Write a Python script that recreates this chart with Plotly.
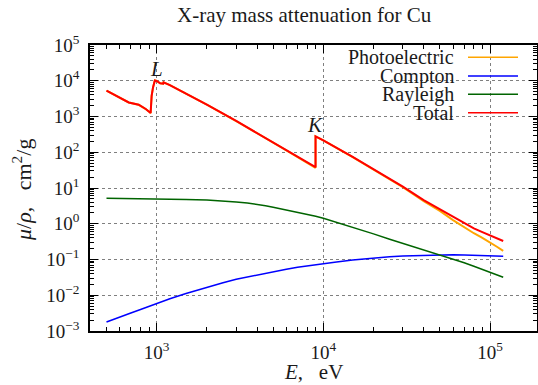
import plotly.graph_objects as go

# ---- data (energies in eV, mu/rho in cm^2/g) ----
E_pe = [500, 600, 680, 780, 860, 920, 933, 951, 975, 1000, 1050, 1095, 1100, 1200,
        1500, 2000, 3000, 4000, 5000, 6000, 8000, 8979, 8979, 10000, 15000, 20000, 25000,
        30000, 40000, 50000, 60000, 70000, 80000, 90000, 100000, 110000, 120000]
photo = [5295, 3395, 2465, 2125, 1615, 1245, 3795, 6495, 10195, 9895, 8495, 8295, 8995, 7575,
         4445, 2150, 745, 344.6, 187, 113.5, 50.7, 36.6, 276.9, 214.4, 73.1, 33.17, 17.6,
         10.49, 4.28, 2.28, 1.262, 0.785, 0.543, 0.402, 0.303, 0.227, 0.174]
total = [5300, 3400, 2470, 2130, 1620, 1250, 3800, 6500, 10200, 9900, 8500, 8300, 9000, 7580,
         4450, 2154, 749, 348, 190, 116, 52.6, 38.3, 278.4, 215.9, 74.0, 33.8, 18.1,
         10.9, 4.6, 2.55, 1.50, 1.0, 0.74, 0.585, 0.475, 0.39, 0.33]

E_compton = [500, 600, 700, 800, 1000, 1200, 1500, 2000, 2500, 3000, 3500, 4000, 5000, 6000,
             7000, 8000, 10000, 12000, 15000, 20000, 25000, 30000, 40000, 50000, 60000, 70000,
             80000, 100000, 120000]
compton = [0.00178, 0.0025, 0.0032, 0.0040, 0.0059, 0.0080, 0.0112, 0.0170, 0.0225, 0.0280,
           0.0326, 0.0370, 0.0455, 0.053, 0.061, 0.067, 0.075, 0.085, 0.097, 0.110, 0.119,
           0.125, 0.131, 0.134, 0.135, 0.134, 0.132, 0.128, 0.124]

E_rayleigh = [500, 700, 1000, 1500, 2000, 2500, 3000, 3500, 4000, 4500, 5000, 6000, 7000, 8000,
              9000, 10000, 12000, 15000, 20000, 25000, 30000, 40000, 50000, 60000, 70000, 80000,
              90000, 100000, 110000, 120000]
rayleigh = [5.14, 5.08, 4.95, 4.80, 4.62, 4.36, 4.08, 3.78, 3.50, 3.19, 2.90, 2.45, 2.12, 1.85,
            1.62, 1.42, 1.10, 0.80, 0.52, 0.37, 0.285, 0.185, 0.135, 0.103, 0.081, 0.065,
            0.053, 0.044, 0.037, 0.032]

series_names = ["Photoelectric", "Compton", "Rayleigh", "Total"]
series_colors = ["#FFA500", "#0000FF", "#006400", "#FF0000"]

x_ticks = [1e3, 1e4, 1e5]
x_ticktext = ["10<sup>3</sup>", "10<sup>4</sup>", "10<sup>5</sup>"]
y_ticks = [1e-3, 1e-2, 1e-1, 1e0, 1e1, 1e2, 1e3, 1e4, 1e5]
y_ticktext = ["10<sup>\u22123</sup>", "10<sup>\u22122</sup>", "10<sup>\u22121</sup>", "10<sup>0</sup>",
              "10<sup>1</sup>", "10<sup>2</sup>", "10<sup>3</sup>", "10<sup>4</sup>", "10<sup>5</sup>"]

FONT = "Liberation Serif"
TXT = "#1a1a1a"

W, H = 538, 385
PL, PR, PT, PB = 90, 537, 45, 331   # plot frame in page pixels

fig = go.Figure()
data = [(E_pe, photo, 2), (E_compton, compton, 1.5), (E_rayleigh, rayleigh, 1.5), (E_pe, total, 2)]
for (xs, ys, w), name, col in zip(data, series_names, series_colors):
    fig.add_trace(go.Scatter(x=xs, y=ys, mode="lines", name=name,
                             line=dict(color=col, width=w), showlegend=False))

x_minor = [m * 10 ** k for k in range(2, 6) for m in range(2, 10)]
y_minor = [m * 10.0 ** k for k in range(-3, 5) for m in range(2, 10)]

axis_common = dict(
    type="log", showline=True, linecolor="black", linewidth=1.5, mirror="allticks",
    ticks="inside", ticklen=8, tickwidth=1, tickcolor="black", automargin=False,
    showgrid=True, gridcolor="#7f7f7f", griddash="dot", gridwidth=1,
    zeroline=False, tickfont=dict(family=FONT, size=19, color=TXT),
)

fig.update_xaxes(**axis_common, range=[2.6, 5.282], tickmode="array", tickvals=x_ticks,
                 ticktext=x_ticktext, ticklabelstandoff=3,
                 minor=dict(ticks="inside", ticklen=4, tickcolor="black", tickvals=x_minor, showgrid=False))
fig.update_yaxes(**axis_common, range=[-3, 5], tickmode="array", tickvals=y_ticks,
                 ticktext=y_ticktext, ticklabelstandoff=5,
                 minor=dict(ticks="inside", ticklen=4, tickcolor="black", tickvals=y_minor, showgrid=False))

def px2paper(px, py):
    return (px - PL) / float(PR - PL), (PB - py) / float(PB - PT)

def text_at(text, px, py, size, xanchor="center", angle=0):
    x, y = px2paper(px, py)
    return dict(text=text, x=x, y=y, xref="paper", yref="paper", xanchor=xanchor,
                yanchor="middle", textangle=angle, showarrow=False,
                font=dict(family=FONT, size=size, color=TXT))

annotations = [
    text_at("X-ray mass attenuation for Cu", 304, 15, 21),
    text_at("<i>\u03bc</i>/<i>\u03c1</i>,   cm<sup>2</sup>/g", 22, 190, 22, angle=-90),
    text_at("<i>E</i>,   eV", 313, 372, 21),
    text_at("<i>L</i>", 156, 69, 21),
    text_at("<i>K</i>", 315, 125, 21),
]

shapes = []
bx0, by0 = px2paper(316, 123)
bx1, by1 = px2paper(531, 46)
shapes.append(dict(type="rect", xref="paper", yref="paper", x0=bx0, x1=bx1, y0=by0, y1=by1,
                   fillcolor="white", line=dict(width=0), layer="between"))
legend_rows = [57.3, 76, 94.3, 112.7]
for name, col, row in zip(series_names, series_colors, legend_rows):
    annotations.append(text_at(name, 456, row, 20, xanchor="right"))
    lx0, ly0 = px2paper(468, row)
    lx1, _ = px2paper(518, row)
    shapes.append(dict(type="line", xref="paper", yref="paper", x0=lx0, x1=lx1, y0=ly0, y1=ly0,
                       line=dict(color=col, width=1.6), layer="above"))

fig.update_layout(
    width=W, height=H,
    margin=dict(l=PL, r=W - PR, t=PT, b=H - PB, autoexpand=False),
    paper_bgcolor="white", plot_bgcolor="white",
    showlegend=False,
    annotations=annotations, shapes=shapes,
    font=dict(family=FONT, color=TXT),
)

# remove the browser's default 8px body margin so the figure sits at the page origin
fig.write_html("out.html", config={"displayModeBar": False},
               post_script="document.body.style.margin='0px';document.body.style.overflow='hidden';")
